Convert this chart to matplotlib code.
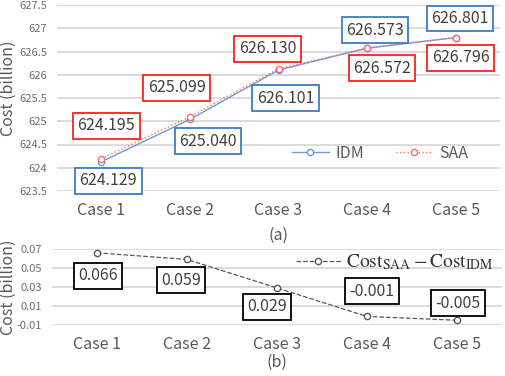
import matplotlib
matplotlib.use('Agg')
import matplotlib.pyplot as plt

plt.rcParams['font.family'] = ['Noto Sans CJK SC', 'DejaVu Sans']
plt.rcParams['mathtext.fontset'] = 'stix'

cases = ['Case 1', 'Case 2', 'Case 3', 'Case 4', 'Case 5']
idm = [624.129, 625.040, 626.101, 626.573, 626.801]
saa = [624.195, 625.099, 626.130, 626.572, 626.796]
diff = [0.066, 0.059, 0.029, -0.001, -0.005]
idm_text = ['624.129', '625.040', '626.101', '626.573', '626.801']
saa_text = ['624.195', '625.099', '626.130', '626.572', '626.796']
diff_text = ['0.066', '0.059', '0.029', '-0.001', '-0.005']

# label offsets in pixels (dx, dy), dy positive = down
idm_off = [(7, 19), (18, 22), (7, 28), (8, -18), (4, -19)]
saa_off = [(5, -33), (-13, -29), (-11, -20), (15, 20), (5, 20)]
diff_off = [(1, 23), (-6, 21), (-10, 19), (5, -25), (1, -17)]

grey = '#595959'
gridc = '#d9d9d9'
blue = '#6b9bd6'
red = '#ff6b6b'

fig = plt.figure(figsize=(5.05, 3.76), dpi=100)
ax1 = fig.add_axes([57/505, 1-191/376, 443/505, 186/376])
ax2 = fig.add_axes([52/505, 1-325/376, 450/505, 76/376])

x = range(len(cases))
px = 0.72  # points per pixel


def style(ax):
    for s in ax.spines.values():
        s.set_visible(False)
    ax.grid(axis='y', color=gridc, lw=1.3)
    ax.set_axisbelow(True)
    ax.tick_params(axis='both', length=0)
    ax.tick_params(axis='x', labelsize=11.5, labelcolor=grey, pad=8)
    ax.tick_params(axis='y', labelcolor='#6e6e6e', pad=7)
    ax.set_xlim(-0.5, 4.5)
    ax.set_xticks(list(x))
    ax.set_xticklabels(cases)


style(ax1)
ax1.plot(x, idm, color=blue, lw=1.0, marker='o', ms=4.5, mfc='white', mec=blue, label='IDM', zorder=3)
ax1.plot(x, saa, color=red, lw=1.0, ls=':', marker='o', ms=4.5, mfc='white', mec=red, label='SAA', zorder=3)
ax1.set_ylim(623.5, 627.5)
ax1.set_yticks([623.5, 624, 624.5, 625, 625.5, 626, 626.5, 627, 627.5])
ax1.set_yticklabels(['623.5', '624', '624.5', '625', '625.5', '626', '626.5', '627', '627.5'], fontsize=8)
ax1.set_ylabel('Cost (billion)', fontsize=11.5, color=grey)
ax1.yaxis.set_label_coords((17 - 57) / 443, 0.55)

for i in x:
    ax1.annotate(idm_text[i], (i, idm[i]), xytext=(idm_off[i][0]*px, -idm_off[i][1]*px),
                 textcoords='offset points', ha='center', va='center', fontsize=11.5, color='#404040',
                 bbox=dict(boxstyle='square,pad=0.28', fc='white', ec='#3b7dc4', lw=1.3))
    ax1.annotate(saa_text[i], (i, saa[i]), xytext=(saa_off[i][0]*px, -saa_off[i][1]*px),
                 textcoords='offset points', ha='center', va='center', fontsize=11.5, color='#404040',
                 bbox=dict(boxstyle='square,pad=0.28', fc='white', ec='#ff2020', lw=1.3))

ax1.legend(loc='center', bbox_to_anchor=((380 - 57) / 443, 1 - (153 - 5) / 186), ncol=2, frameon=False,
           fontsize=11.5, labelcolor=grey, handlelength=2.3, columnspacing=2.0, handletextpad=0.4)

style(ax2)
ax2.plot(x, diff, color=grey, lw=0.9, ls='--', marker='o', ms=4.5, mfc='white', mec=grey,
         label=r'$\mathrm{Cost}_{\mathrm{SAA}}-\mathrm{Cost}_{\mathrm{IDM}}$', zorder=3)
ax2.set_ylim(-0.01, 0.07)
ax2.set_yticks([-0.01, 0.01, 0.03, 0.05, 0.07])
ax2.set_yticklabels(['-0.01', '0.01', '0.03', '0.05', '0.07'], fontsize=8)
ax2.set_ylabel('Cost (billion)', fontsize=11.5, color=grey)
ax2.yaxis.set_label_coords((17 - 52) / 450, 0.5)

for i in x:
    ax2.annotate(diff_text[i], (i, diff[i]), xytext=(diff_off[i][0]*px, -diff_off[i][1]*px),
                 textcoords='offset points', ha='center', va='center', fontsize=11.5, color='#404040',
                 bbox=dict(boxstyle='square,pad=0.28', fc='white', ec='black', lw=1.3))

ax2.legend(loc='center', bbox_to_anchor=((395 - 52) / 450, 1 - (262 - 249) / 76), frameon=False,
           fontsize=14, labelcolor='#333333', handlelength=2.3, handletextpad=0.3)

fig.text(279/505, 1-235/376, '(a)', ha='center', va='center', fontsize=11.5, color=grey)
fig.text(277/505, 1-362/376, '(b)', ha='center', va='center', fontsize=11.5, color=grey)

fig.savefig('out.png', dpi=100)
